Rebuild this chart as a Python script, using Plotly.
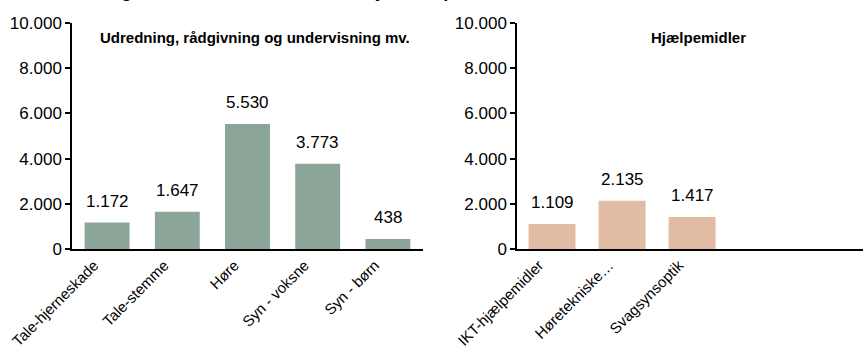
import plotly.graph_objects as go

# Values per panel
left_cats = ["Tale-hjerneskade", "Tale-stemme", "Høre", "Syn - voksne", "Syn - børn"]
left_vals = [1172, 1647, 5530, 3773, 438]
right_cats = ["IKT-hjælpemidler", "Høretekniske…", "Svagsynsoptik"]
right_vals = [1109, 2135, 1417]
y_ticks = [0, 2000, 4000, 6000, 8000, 10000]

left_title = "Udredning, rådgivning og undervisning mv."
right_title = "Hjælpemidler"
main_title = "Bevillinger fordelt mellem de enkelte ydelser på de to områder"

LEFT_COLOR = "#8BA598"
RIGHT_COLOR = "#E1BBA4"
FONT = "Liberation Sans, Arial, sans-serif"

W, H = 863, 353
ML, MR, MT, MB = 72, 0, 23, 104
PW = W - ML - MR
PH = H - MT - MB


def px_x(px):
    return (px - ML) / PW


def px_y(py):
    return (H - MB - py) / PH


def fmt(v):
    return f"{v:,}".replace(",", ".")


fig = go.Figure()
fig.add_trace(go.Bar(x=left_cats, y=left_vals, width=0.64,
                     marker=dict(color=LEFT_COLOR, line=dict(width=0)),
                     xaxis="x", yaxis="y", hoverinfo="x+y"))
fig.add_trace(go.Bar(x=right_cats, y=right_vals, width=0.67,
                     marker=dict(color=RIGHT_COLOR, line=dict(width=0)),
                     xaxis="x2", yaxis="y2", hoverinfo="x+y"))

annotations = []
for cats, vals, xr, yr in [(left_cats, left_vals, "x", "y"),
                           (right_cats, right_vals, "x2", "y2")]:
    for c, v in zip(cats, vals):
        annotations.append(dict(x=c, y=v, xref=xr, yref=yr, text=fmt(v),
                                showarrow=False, yanchor="bottom", yshift=10,
                                font=dict(size=17, color="#000000", family=FONT)))

annotations.append(dict(x=px_x(255), y=px_y(37), xref="paper", yref="paper",
                        text=f"<b>{left_title}</b>", showarrow=False,
                        xanchor="center", yanchor="middle",
                        font=dict(size=15, color="#000000", family=FONT)))
annotations.append(dict(x=px_x(698), y=px_y(37), xref="paper", yref="paper",
                        text=f"<b>{right_title}</b>", showarrow=False,
                        xanchor="center", yanchor="middle",
                        font=dict(size=15, color="#000000", family=FONT)))
annotations.append(dict(x=px_x(55), y=1, xref="paper", yref="paper",
                        text=f"<b>{main_title}</b>", showarrow=False,
                        xanchor="left", yanchor="bottom", yshift=20,
                        font=dict(size=18, color="#000000", family=FONT)))

yaxis_style = dict(range=[0, 10000], tickvals=y_ticks, tickformat=",d",
                   showgrid=False, zeroline=False, showline=True,
                   linecolor="#000000", linewidth=1.5, ticks="outside",
                   ticklen=5, tickwidth=1.5, tickcolor="#000000",
                   tickfont=dict(size=17, color="#000000", family=FONT))
xaxis_style = dict(type="category", showgrid=False, zeroline=False,
                   showline=True, linecolor="#000000", linewidth=1.5,
                   ticks="", tickangle=-45, ticklabelshift=-13,
                   tickfont=dict(size=15, color="#000000", family=FONT))

fig.update_layout(
    width=W, height=H,
    margin=dict(l=ML, r=MR, t=MT, b=MB),
    paper_bgcolor="#FFFFFF", plot_bgcolor="#FFFFFF",
    separators=",.",
    showlegend=False,
    font=dict(family=FONT, color="#000000"),
    xaxis=dict(domain=[0, px_x(423)], range=[-0.5, 4.5], anchor="y",
               categoryorder="array", categoryarray=left_cats, **xaxis_style),
    xaxis2=dict(domain=[px_x(517), 1], range=[-0.5, 4.44], anchor="y2",
                categoryorder="array", categoryarray=right_cats, **xaxis_style),
    yaxis=dict(anchor="x", **yaxis_style),
    yaxis2=dict(anchor="x2", **yaxis_style),
    annotations=annotations,
)

fig.write_html("out.html")
